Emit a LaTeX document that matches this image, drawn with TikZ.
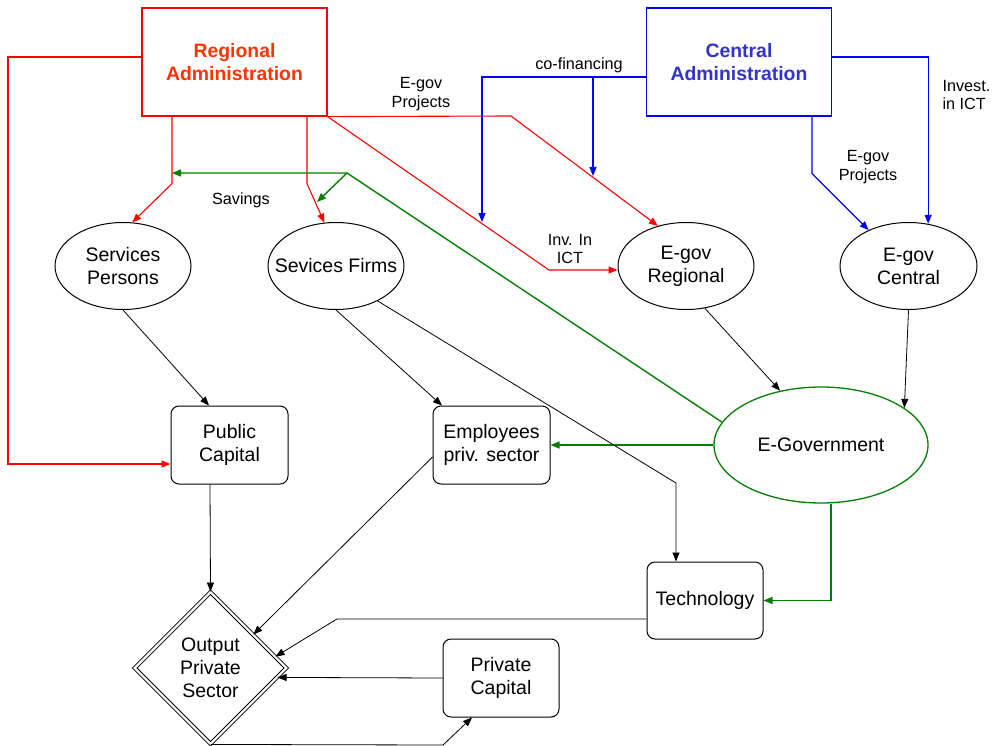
\documentclass[tikz,border=0pt]{standalone}
\usepackage{fontspec}
\setmainfont{Liberation Sans}
\usepackage{tikz}
\usetikzlibrary{shapes.geometric,arrows.meta}
\definecolor{regred}{RGB}{255,51,0}
\definecolor{cenblue}{RGB}{51,51,204}
\definecolor{egreen}{RGB}{0,128,0}

\begin{document}
\begin{tikzpicture}[x=1pt,y=-1pt,>={Triangle[length=9pt,width=7pt]},
        every node/.style={font=\fontsize{19.5}{23}\selectfont},
        oval/.style={draw,ellipse,line width=1pt,minimum width=136pt,minimum height=87pt,inner xsep=-16pt,inner ysep=0pt,align=center},
        box/.style={draw,rounded corners=8pt,line width=1pt,minimum width=117pt,minimum height=78pt,align=center},
        headbox/.style={draw,line width=1.2pt,minimum width=185pt,minimum height=108pt,align=center,font=\fontsize{19.4}{23}\selectfont\bfseries},
        lbl/.style={align=center,font=\fontsize{16.2}{18.5}\selectfont},
        redline/.style={red,line width=1.1pt},
        blueline/.style={blue,line width=1.2pt},
        greenline/.style={egreen,line width=1.4pt},
        blackline/.style={black,line width=0.8pt}]
        \path[use as bounding box,fill=white] (0,0) rectangle (995,746);
        % administrations
        \node[headbox,draw=red,text=regred] (reg) at (234.5,62) {Regional\\Administration};
        \node[headbox,draw=blue,text=cenblue] (cen) at (739,62) {Central\\Administration};
        % services and e-gov
        \node[oval] (sp) at (123,266) {Services\\Persons};
        \node[oval] (sf) at (336,266) {Sevices Firms};
        \node[oval] (egr) at (686,266) {E-gov\\Regional};
        \node[oval,minimum width=137pt] (egc) at (908.5,266) {E-gov\\Central};
        \node[oval,draw=egreen,line width=1.3pt,minimum width=214pt,minimum height=116pt] (egov) at (821,445) {E-Government};
        % capital and output
        \node[box] (pub) at (229.5,445) {Public\\Capital};
        \node[box] (emp) at (491.5,445) {Employees\\priv. sector};
        \node[box,minimum width=116pt,minimum height=77pt] (tech) at (705,600.5) {Technology};
        \node[box,minimum width=116pt] (priv) at (501,678) {Private\\Capital};
        \node[draw,diamond,double,double distance=2.2pt,line width=0.9pt,minimum width=152pt,minimum height=152pt,inner sep=0pt,align=center] (out) at (210.5,668) {Output\\Private\\Sector};
        % labels
        \node[lbl] (projR) at (421,94) {E-gov\\Projects};
        \node[lbl] (cofin) at (579,65) {co-financing};
        \node[lbl] (projC) at (868,167) {E-gov\\Projects};
        \node[lbl,align=left,anchor=west] (invC) at (939,95) {Invest.\\in ICT};
        \node[lbl] (invR) at (570,249) {Inv. In\\ICT};
        \node[lbl] (sav) at (241,200) {Savings};
        \coordinate (redcorner) at (8,57);
        \coordinate (cofinA) at (482,222);
        \coordinate (cofork) at (593,77);
        \coordinate (cofinB) at (593,176);
        \coordinate (savefork) at (347,173);
        \coordinate (saveend) at (172,173);
        \coordinate (savefirm) at (317,202);
        % red: regional administration
        \draw[redline,->] ([yshift=5pt]reg.west) -- (redcorner) |- ([yshift=-19pt]pub.west);
        \draw[redline,->] ([xshift=-62.5pt]reg.south) -- ++(0,67) -- (sp.78);
        \draw[redline,->] ([xshift=72.5pt]reg.south) -- ++(0,67) -- (sf.105);
        \draw[redline,->] (reg.south east) -- (549,270) -- ([yshift=-4pt]egr.west);
        \draw[redline,->] (reg.south east) -- (511,116) -- (egr.125);
        % blue: central administration
        \draw[blueline,->] ([yshift=-15pt]cen.west) -| (cofinA);
        \draw[blueline,->] (cofork) -- (cofinB);
        \draw[blueline,->] ([xshift=73pt]cen.south) -- ++(0,57) -- (egc.138);
        \draw[blueline,->] ([yshift=5pt]cen.east) -| (egc.65);
        % green: e-government
        \draw[greenline,->] (egov.167) -- (savefork) -- (saveend);
        \draw[greenline,->] (savefork) -- (savefirm);
        \draw[greenline,->] (egov.west) -- (emp.east);
        \draw[greenline,->] ([xshift=10pt]egov.south) |- (tech.east);
        % black
        \draw[blackline,->] (sp.south) -- ([xshift=-20.5pt]pub.north);
        \draw[blackline,->] (sf.south) -- ([xshift=-49.5pt]emp.north);
        \draw[blackline,->] (sf.320) -- (676,483) -- ([xshift=-29pt]tech.north);
        \draw[blackline,->] (egr.294) -- (egov.127);
        \draw[blackline,->] (egc.south) -- (egov.24);
        \draw[blackline,->] ([xshift=-19.5pt]pub.south) -- (out.north);
        \draw[blackline,->] ([yshift=-12pt]emp.west) -- (out.38);
        \draw[blackline,->] ([yshift=-18.5pt]tech.west) -- (337,619) -- (out.10);
        \draw[blackline,->] (priv.west) -- (out.-8);
        \draw[blackline,->] (out.south) -- (443,745) -- ([xshift=-29pt]priv.south);
      \end{tikzpicture}
\end{document}
